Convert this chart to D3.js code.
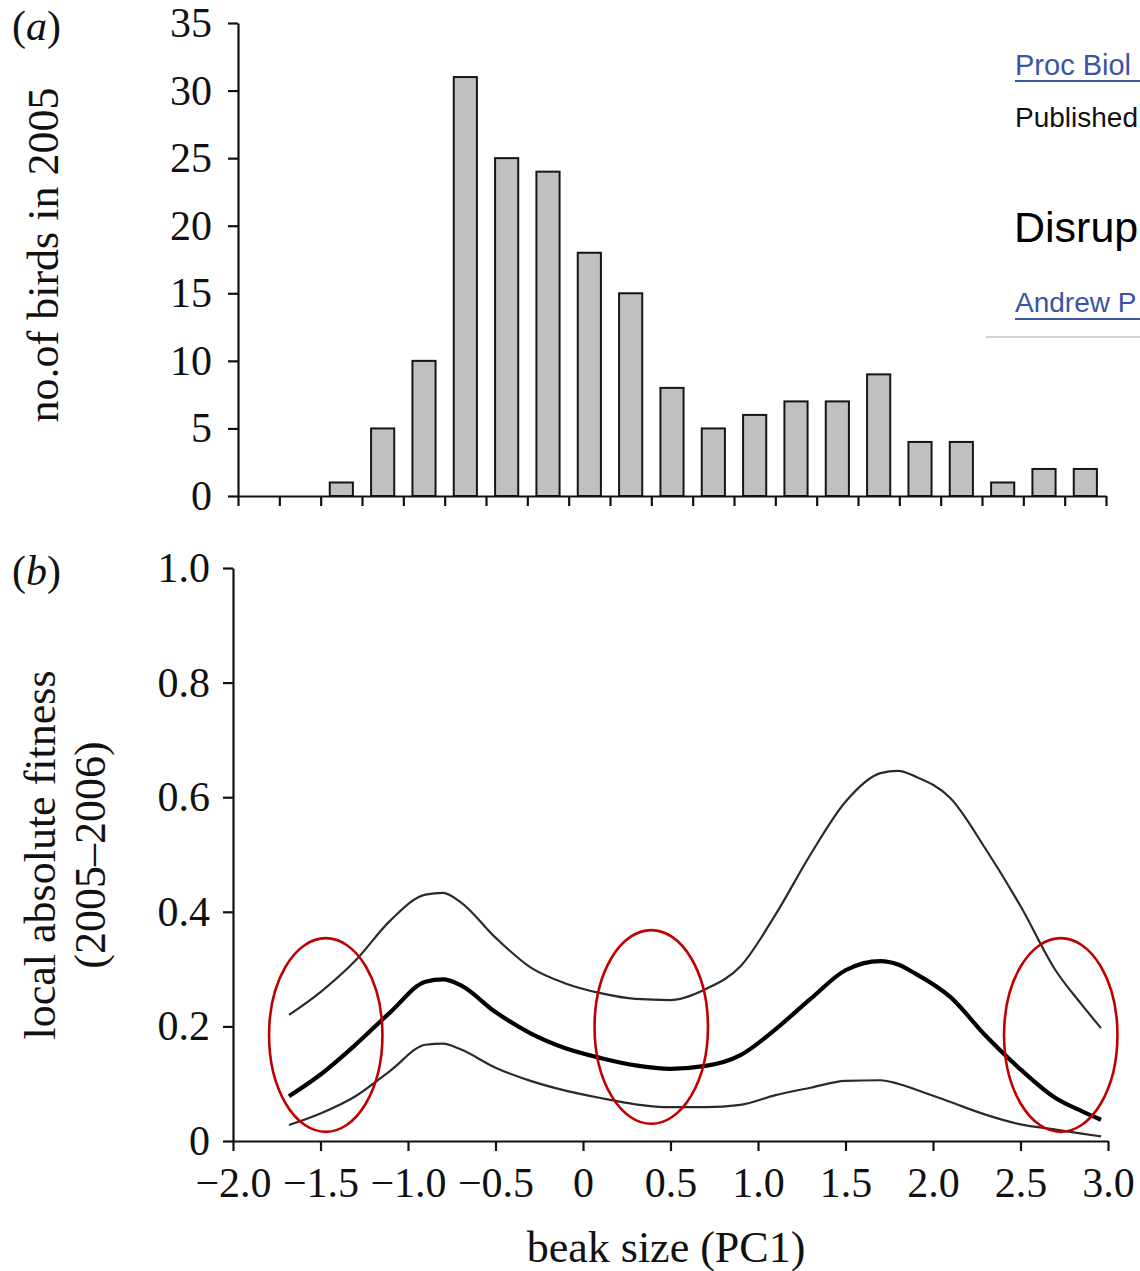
<!DOCTYPE html>
<html>
<head>
<meta charset="utf-8">
<script src="https://cdn.jsdelivr.net/npm/d3@7"></script>
<style>
  html, body { margin: 0; padding: 0; background: #fff; }
  svg { display: block; }
</style>
</head>
<body>
<svg id="chart" width="1140" height="1271"></svg>
<script>
// ---------- DATA ----------
// Panel (a): histogram of beak size, 2005 (bins, left to right)
const binIndex = [0,1,2,3,4,5,6,7,8,9,10,11,12,13,14,15,16,17,18,19,20];
const birdCounts = [0,0,1,5,10,31,25,24,18,15,8,5,6,7,7,9,4,4,1,2,2];
const countTicks = [0,5,10,15,20,25,30,35];

// Panel (b): local absolute fitness vs beak size (PC1)
const beakSize = [-1.68,-1.5,-1.3,-1.1,-0.9,-0.8,-0.7,-0.5,-0.3,-0.1,0.1,0.3,0.5,0.7,0.9,1.1,1.3,1.5,1.7,1.8,1.9,2.1,2.3,2.5,2.7,2.85,2.96];
const fitnessUpper = [0.220,0.260,0.315,0.385,0.430,0.433,0.417,0.355,0.303,0.275,0.258,0.248,0.246,0.265,0.305,0.395,0.500,0.592,0.642,0.646,0.636,0.598,0.510,0.410,0.298,0.238,0.197];
const fitnessMean  = [0.078,0.116,0.168,0.225,0.278,0.282,0.272,0.225,0.188,0.162,0.145,0.132,0.126,0.131,0.150,0.195,0.248,0.298,0.314,0.308,0.292,0.251,0.184,0.125,0.075,0.052,0.037];
const fitnessLower = [0.028,0.048,0.078,0.123,0.168,0.170,0.160,0.128,0.105,0.088,0.075,0.064,0.059,0.059,0.063,0.080,0.093,0.105,0.106,0.100,0.090,0.068,0.046,0.029,0.020,0.013,0.008];
const beakTicks = [-2.0,-1.5,-1.0,-0.5,0,0.5,1.0,1.5,2.0,2.5,3.0];
const fitnessTicks = [0,0.2,0.4,0.6,0.8,1.0];

// Red annotation ellipses (centre in data units)
const ellipseX = [-1.47, 0.39, 2.73];
const ellipseY = [0.185, 0.199, 0.185];
const ellipseRx = 0.324;   // beak-size units
const ellipseRy = 0.169;   // fitness units

// Web page fragment on the right (visible part only)
const webLines = ["Proc Biol", "Published", "Disrup", "Andrew P"];

// ---------- DRAWING ----------
const svg = d3.select("#chart");
const serif = "'Liberation Serif', 'Times New Roman', serif";
const sans = "'Liberation Sans', Arial, sans-serif";

// ----- Panel (a) -----
const xA = d3.scaleLinear().domain([0, binIndex.length]).range([238, 1106]);
const yA = d3.scaleLinear().domain([0, 35]).range([496, 23]);

const gA = svg.append("g");
gA.selectAll("rect.bar")
  .data(binIndex.filter(i => birdCounts[i] > 0))
  .join("rect")
  .attr("class", "bar")
  .attr("x", i => xA(i + 0.22))
  .attr("width", i => xA(i + 0.78) - xA(i + 0.22))
  .attr("y", i => yA(birdCounts[i]))
  .attr("height", i => yA(0) - yA(birdCounts[i]))
  .attr("fill", "#c0c0c0")
  .attr("stroke", "#151515")
  .attr("stroke-width", 2);

const axAx = gA.append("g")
  .attr("transform", `translate(0,${yA(0)})`)
  .call(d3.axisBottom(xA).tickValues(d3.range(0, binIndex.length + 1)).tickSize(10).tickSizeOuter(0).tickFormat(""));
const axAy = gA.append("g")
  .attr("transform", `translate(${xA(0)},0)`)
  .call(d3.axisLeft(yA).tickValues(countTicks).tickSize(10).tickPadding(16).tickSizeOuter(0).tickFormat(d3.format("d")));

// ----- Panel (b) -----
const xB = d3.scaleLinear().domain([-2, 3]).range([233, 1108]);
const yB = d3.scaleLinear().domain([0, 1]).range([1141, 568]);

const gB = svg.append("g");
const line = d3.line()
  .x((d, i) => xB(beakSize[i]))
  .y(d => yB(d))
  .curve(d3.curveMonotoneX);

gB.append("path").attr("d", line(fitnessUpper)).attr("fill", "none").attr("stroke", "#2a2a2a").attr("stroke-width", 2.2);
gB.append("path").attr("d", line(fitnessLower)).attr("fill", "none").attr("stroke", "#2a2a2a").attr("stroke-width", 2.2);
gB.append("path").attr("d", line(fitnessMean)).attr("fill", "none").attr("stroke", "#000").attr("stroke-width", 4.2);

const axBx = gB.append("g")
  .attr("transform", `translate(0,${yB(0)})`)
  .call(d3.axisBottom(xB).tickValues(beakTicks).tickSize(10).tickSizeOuter(0)
    .tickFormat(d => d === 0 ? "0" : d3.format(".1f")(d)));
axBx.selectAll("text").attr("y", 56).attr("dy", 0);

const axBy = gB.append("g")
  .attr("transform", `translate(${xB(-2)},0)`)
  .call(d3.axisLeft(yB).tickValues(fitnessTicks).tickSize(10).tickPadding(13).tickSizeOuter(0)
    .tickFormat(d => d === 0 ? "0" : d3.format(".1f")(d)));

// axis styling
[axAx, axAy, axBx, axBy].forEach(a => {
  a.select(".domain").attr("stroke", "#111").attr("stroke-width", 2.2);
  a.selectAll(".tick line").attr("stroke", "#111").attr("stroke-width", 2.2);
  a.selectAll("text").attr("font-family", serif).attr("font-size", 42).attr("fill", "#111");
});

// ellipses
gB.selectAll("ellipse")
  .data(ellipseX)
  .join("ellipse")
  .attr("cx", d => xB(d))
  .attr("cy", (d, i) => yB(ellipseY[i]))
  .attr("rx", xB(ellipseRx) - xB(0))
  .attr("ry", yB(0) - yB(ellipseRy))
  .attr("fill", "none")
  .attr("stroke", "#c00000")
  .attr("stroke-width", 2.6);

// ----- Titles & labels -----
svg.append("text").attr("x", 12).attr("y", 40)
  .attr("font-family", serif).attr("font-size", 42).attr("fill", "#111")
  .html('(<tspan font-style="italic">a</tspan>)');
svg.append("text").attr("x", 12).attr("y", 585)
  .attr("font-family", serif).attr("font-size", 42).attr("fill", "#111")
  .html('(<tspan font-style="italic">b</tspan>)');

svg.append("text")
  .attr("transform", "translate(58,255) rotate(-90)")
  .attr("text-anchor", "middle")
  .attr("font-family", serif).attr("font-size", 44).attr("fill", "#111")
  .text("no.of birds in 2005");

svg.append("text")
  .attr("transform", "translate(55,855) rotate(-90)")
  .attr("text-anchor", "middle")
  .attr("font-family", serif).attr("font-size", 44).attr("fill", "#111")
  .text("local absolute fitness");
svg.append("text")
  .attr("transform", "translate(105,855) rotate(-90)")
  .attr("text-anchor", "middle")
  .attr("font-family", serif).attr("font-size", 44).attr("fill", "#111")
  .text("(2005\u20132006)");

svg.append("text")
  .attr("x", 666).attr("y", 1262)
  .attr("text-anchor", "middle")
  .attr("font-family", serif).attr("font-size", 44).attr("fill", "#111")
  .text("beak size (PC1)");

// ----- Web page fragment (right edge) -----
const web = svg.append("g");
const linkBlue = "#3b55a5";
const webStyle = [
  {x: 1015, y: 75,  size: 29, color: linkBlue, underline: 81},
  {x: 1015, y: 127, size: 28, color: "#111",   underline: null},
  {x: 1014, y: 242, size: 43, color: "#000",   underline: null},
  {x: 1015, y: 312, size: 28, color: linkBlue, underline: 319}
];
webLines.forEach((t, i) => {
  const s = webStyle[i];
  web.append("text").attr("x", s.x).attr("y", s.y)
    .attr("font-family", sans).attr("font-size", s.size).attr("fill", s.color)
    .text(t);
  if (s.underline) {
    web.append("line").attr("x1", 1015).attr("x2", 1140)
      .attr("y1", s.underline).attr("y2", s.underline)
      .attr("stroke", linkBlue).attr("stroke-width", 2);
  }
});
web.append("line").attr("x1", 986).attr("x2", 1140).attr("y1", 337).attr("y2", 337)
  .attr("stroke", "#c4c4c4").attr("stroke-width", 1.5);
</script>
</body>
</html>
